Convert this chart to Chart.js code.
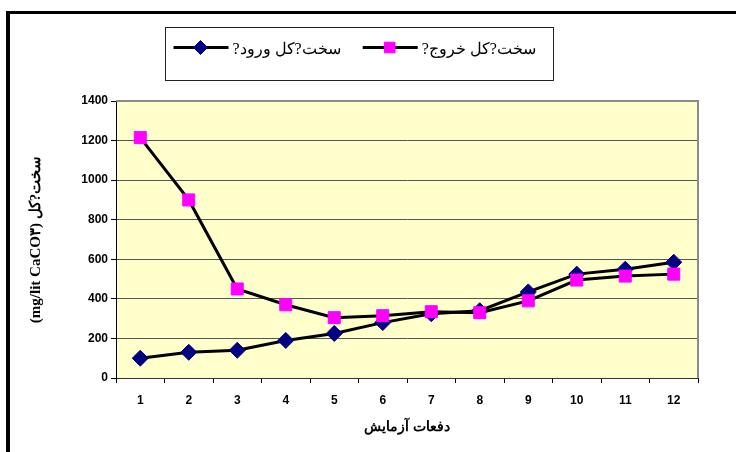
<!DOCTYPE html>
<html>
<head>
<meta charset="utf-8">
<script src="https://cdn.jsdelivr.net/npm/chart.js@4/dist/chart.umd.min.js"></script>
<style>
  html, body { margin: 0; padding: 0; background: #fff; }
  #wrap { position: relative; width: 736px; height: 452px; overflow: hidden; }
  #frame { position: absolute; left: 6px; top: 11px; width: 800px; height: 500px;
           border-top: 3px solid #000; border-left: 4px solid #000; }
  canvas { position: absolute; left: 0; top: 0; }
</style>
</head>
<body>
<div id="wrap">
  <div id="frame"></div>
  <canvas id="chart" width="736" height="452"></canvas>
</div>
<script>
const trials = ["1", "2", "3", "4", "5", "6", "7", "8", "9", "10", "11", "12"];
const inputHardness = [100, 130, 140, 190, 225, 280, 325, 340, 435, 525, 550, 585];
const outputHardness = [1215, 900, 450, 370, 305, 315, 335, 330, 390, 495, 515, 525];
const seriesNames = ["سخت?کل ورود?", "سخت?کل خروج?"];
const xTitle = "دفعات آزمایش";
const yTitle = "(mg/lit CaCO۳) سخت?کل";

// plot background + gray frame on top/right
const plotBox = {
  id: "plotBox",
  beforeDraw(chart) {
    const { ctx, chartArea: a } = chart;
    ctx.save();
    ctx.fillStyle = "#FFFFCC";
    ctx.fillRect(a.left, a.top, a.right - a.left, a.bottom - a.top);
    ctx.restore();
  },
  afterDatasetsDraw(chart) {
    const { ctx, chartArea: a } = chart;
    ctx.save();
    ctx.strokeStyle = "#8c8c8c";
    ctx.lineWidth = 2;
    ctx.beginPath();
    ctx.moveTo(a.left, a.top);
    ctx.lineTo(a.right, a.top);
    ctx.lineTo(a.right, a.bottom);
    ctx.stroke();
    ctx.restore();
  },
};

// legend box with line + marker samples
const lineLegend = {
  id: "lineLegend",
  afterDraw(chart) {
    const ctx = chart.ctx;
    const box = { x: 165.5, y: 27.5, w: 388, h: 53 };
    ctx.save();
    ctx.fillStyle = "#fff";
    ctx.fillRect(box.x, box.y, box.w, box.h);
    ctx.strokeStyle = "#222";
    ctx.lineWidth = 1;
    ctx.strokeRect(box.x, box.y, box.w, box.h);
    const cy = box.y + 20;
    let x = box.x + 8;
    ctx.font = "16px 'Liberation Serif', 'DejaVu Serif', serif";
    ctx.textBaseline = "middle";
    chart.data.datasets.forEach((ds, i) => {
      ctx.strokeStyle = "#000";
      ctx.lineWidth = 3;
      ctx.beginPath();
      ctx.moveTo(x, cy);
      ctx.lineTo(x + 55, cy);
      ctx.stroke();
      ctx.fillStyle = ds.pointBackgroundColor;
      ctx.strokeStyle = ds.pointBorderColor;
      ctx.lineWidth = 1;
      Chart.helpers.drawPoint(ctx, {
        pointStyle: ds.pointStyle,
        radius: ds.pointRadius - 1,
        borderWidth: 1,
        rotation: 0,
      }, x + 27, cy);
      ctx.fillStyle = "#000";
      ctx.direction = "rtl";
      ctx.textAlign = "left";
      ctx.fillText(seriesNames[i], x + 59, cy + 2);
      ctx.direction = "ltr";
      x += 59 + ctx.measureText(seriesNames[i]).width + 22;
    });
    ctx.restore();
  },
};

const tickFont = { family: "'Liberation Sans', Arial, sans-serif", size: 12, weight: "bold" };

new Chart(document.getElementById("chart").getContext("2d"), {
  type: "line",
  data: {
    labels: trials,
    datasets: [
      {
        label: seriesNames[0],
        data: inputHardness,
        borderColor: "#000",
        borderWidth: 3,
        pointStyle: "rectRot",
        pointRadius: 8,
        pointBackgroundColor: "#000080",
        pointBorderColor: "#000080",
        pointBorderWidth: 1,
        tension: 0,
        order: 2,
      },
      {
        label: seriesNames[1],
        data: outputHardness,
        borderColor: "#000",
        borderWidth: 3,
        pointStyle: "rect",
        pointRadius: 8.5,
        pointBackgroundColor: "#FF00FF",
        pointBorderColor: "#FF00FF",
        pointBorderWidth: 1,
        tension: 0,
        order: 1,
      },
    ],
  },
  options: {
    responsive: false,
    animation: false,
    layout: { padding: { top: 101, right: 38, bottom: 0, left: 20 } },
    plugins: {
      legend: { display: false },
      tooltip: { enabled: false },
    },
    scales: {
      x: {
        offset: true,
        grid: { offset: true, drawOnChartArea: false, tickLength: 5, color: "#000" },
        border: { color: "#333", width: 1 },
        ticks: { color: "#000", padding: 10, font: tickFont },
        title: {
          display: true,
          text: xTitle,
          color: "#000",
          padding: { top: 0, bottom: 16 },
          font: { family: "'Liberation Serif', 'DejaVu Serif', serif", size: 14, weight: "bold" },
        },
        afterFit(s) { s.height = 74; },
      },
      y: {
        min: 0,
        max: 1400,
        ticks: { stepSize: 200, color: "#000", padding: 3, font: tickFont, callback: v => String(v) },
        grid: { color: "#555", tickColor: "#000", tickLength: 5, lineWidth: 1 },
        border: { color: "#000", width: 1 },
        title: {
          display: true,
          text: yTitle,
          color: "#000",
          padding: { top: 7, bottom: 0 },
          font: { family: "'Liberation Serif', 'DejaVu Serif', serif", size: 15, weight: "bold" },
        },
        afterFit(s) { s.width = 96; },
      },
    },
  },
  plugins: [plotBox, lineLegend],
});
</script>
</body>
</html>
